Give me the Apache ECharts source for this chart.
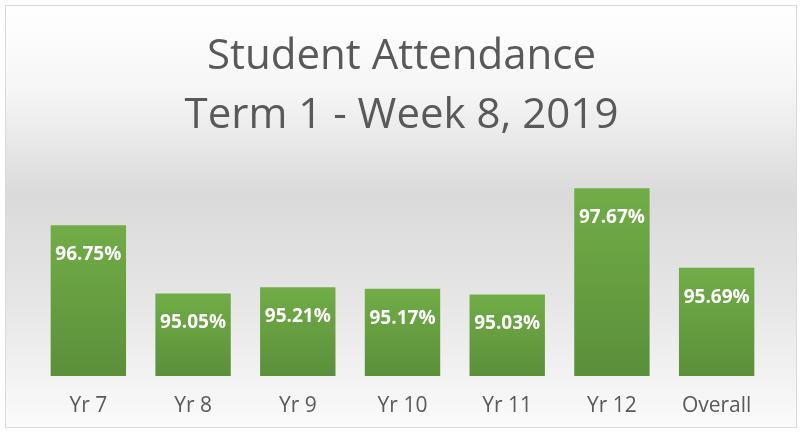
<!DOCTYPE html>
<html>
<head>
<meta charset="utf-8">
<script src="https://cdn.jsdelivr.net/npm/echarts@6/dist/echarts.min.js"></script>
<style>
  html, body { margin: 0; padding: 0; background: #ffffff; }
  #main { width: 803px; height: 432px; }
</style>
</head>
<body>
<div id="main"></div>
<script>
var categories = ["Yr 7", "Yr 8", "Yr 9", "Yr 10", "Yr 11", "Yr 12", "Overall"];
var attendance = [96.75, 95.05, 95.21, 95.17, 95.03, 97.67, 95.69];
var titleLines = ["Student Attendance", "Term 1 - Week 8, 2019"];

var myChart = echarts.init(document.getElementById("main"));
var option = {
  backgroundColor: "#ffffff",
  graphic: [
    {
      // chart area with border and grey gradient
      type: "rect",
      z: -10,
      silent: true,
      shape: { x: 5.5, y: 5.5, width: 791, height: 422 },
      style: {
        stroke: "#d9d9d9",
        lineWidth: 1,
        fill: new echarts.graphic.LinearGradient(0, 0, 0, 1, [
          { offset: 0, color: "#ffffff" },
          { offset: 0.2, color: "#f6f6f6" },
          { offset: 0.45, color: "#dadada" },
          { offset: 0.7, color: "#e6e6e6" },
          { offset: 1, color: "#fbfbfb" },
        ]),
      },
    },
  ],
  title: {
    text: titleLines.join("\n"),
    left: "center",
    top: 23,
    textStyle: {
      fontFamily: "Open Sans",
      fontSize: 42,
      fontWeight: "normal",
      color: "#595959",
      lineHeight: 59,
    },
  },
  grid: {
    left: 36,
    right: 34,
    top: 175,
    bottom: 56,
    containLabel: false,
  },
  xAxis: {
    type: "category",
    data: categories,
    axisLine: { show: false },
    axisTick: { show: false },
    axisLabel: {
      color: "#595959",
      fontFamily: "Open Sans",
      fontSize: 21,
      margin: 20,
    },
  },
  yAxis: {
    type: "value",
    min: 93,
    max: 98,
    show: false,
    splitLine: { show: false },
  },
  series: [
    {
      type: "bar",
      data: attendance,
      barCategoryGap: "28%",
      itemStyle: {
        color: new echarts.graphic.LinearGradient(0, 0, 0, 1, [
          { offset: 0, color: "#71ad47" },
          { offset: 1, color: "#5b8f3a" },
        ]),
      },
      label: {
        show: true,
        position: "insideTop",
        distance: 20,
        formatter: function (p) {
          return p.value.toFixed(2) + "%";
        },
        color: "#ffffff",
        fontFamily: "Open Sans",
        fontWeight: "bold",
        fontSize: 19,
      },
    },
  ],
};
myChart.setOption(option);
</script>
</body>
</html>
